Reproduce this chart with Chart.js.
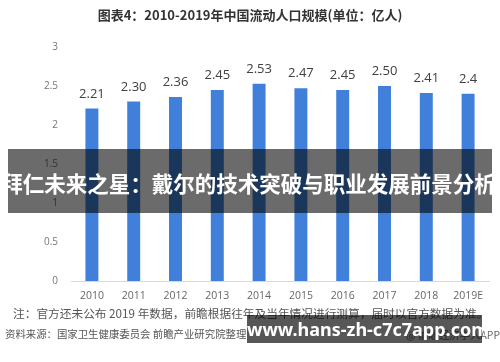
<!DOCTYPE html>
<html><head><meta charset="utf-8">
<script src="https://cdn.jsdelivr.net/npm/chart.js@4/dist/chart.umd.min.js"></script>
<style>
html,body{margin:0;padding:0;background:#fff;}
#wrap{position:relative;width:500px;height:362px;overflow:hidden;font-family:"Noto Sans CJK SC","Noto Sans",sans-serif;}
#c{position:absolute;left:0;top:0;}
.abs{position:absolute;white-space:nowrap;}
.title{left:0;width:500px;top:6px;line-height:18px;text-align:center;font-weight:bold;font-size:13px;color:#333;}
.banner{left:8px;width:484px;top:149px;height:64px;background:rgba(0,0,0,0.58);}
.bannertext{left:0;width:497px;top:168px;line-height:30px;text-align:center;color:#fff;font-weight:bold;font-size:21.5px;}
.note{left:13px;top:305px;line-height:16px;font-size:11.7px;color:#555;}
.src{left:5px;top:326px;line-height:16px;font-size:10.4px;color:#555;}
.app{right:0;top:327px;line-height:16px;font-size:10.4px;color:#666;}
.wm{left:247px;top:315px;width:235px;height:28px;background:rgba(0,0,0,0.66);}
.wmtext{left:247px;top:315px;width:235px;line-height:28px;text-align:center;color:#fff;font-weight:bold;font-size:18px;font-family:"Noto Sans","DejaVu Sans",sans-serif;}
</style>
</head><body>
<div id="wrap">
<canvas id="c" width="500" height="362"></canvas>
<div class="abs title">图表4：2010-2019年中国流动人口规模(单位：亿人)</div>
<div class="abs banner"></div>
<div class="abs bannertext">拜仁未来之星：戴尔的技术突破与职业发展前景分析</div>
<div class="abs note">注：官方还未公布 2019 年数据，前瞻根据往年及当年情况进行测算，届时以官方数据为准。</div>
<div class="abs src">资料来源：国家卫生健康委员会 前瞻产业研究院整理</div>
<div class="abs app">@ 前瞻经济学人APP</div>
<div class="abs wm"></div>
<div class="abs wmtext">www.hans-zh-c7c7app.com</div>
</div>
<script>
const years = ['2010','2011','2012','2013','2014','2015','2016','2017','2018','2019E'];
const population = [2.21,2.30,2.36,2.45,2.53,2.47,2.45,2.50,2.41,2.40];
const valueLabels = ['2.21','2.30','2.36','2.45','2.53','2.47','2.45','2.50','2.41','2.4'];
const yMin = 0, yMax = 3, yStep = 0.5;

const valueLabelPlugin = {
  id: 'valueLabels',
  afterDatasetsDraw(chart) {
    const ctx = chart.ctx;
    const meta = chart.getDatasetMeta(0);
    ctx.save();
    ctx.font = '13px "Open Sans", "Noto Sans", sans-serif';
    ctx.fillStyle = '#404040';
    ctx.textAlign = 'center';
    ctx.textBaseline = 'alphabetic';
    meta.data.forEach((bar, i) => {
      ctx.fillText(valueLabels[i], bar.x, bar.y - 11);
    });
    ctx.restore();
  }
};

new Chart(document.getElementById('c'), {
  type: 'bar',
  data: {
    labels: years,
    datasets: [{
      data: population,
      backgroundColor: '#4080da',
      borderWidth: 0,
      barPercentage: 0.31,
      categoryPercentage: 1
    }]
  },
  options: {
    responsive: false,
    animation: false,
    devicePixelRatio: 1,
    layout: { padding: { top: 47, left: 0, right: 11, bottom: 57 } },
    plugins: { legend: { display: false }, tooltip: { enabled: false }, title: { display: false } },
    scales: {
      x: {
        grid: { display: false, drawTicks: false },
        border: { display: true, color: '#d9d9d9', width: 1 },
        ticks: { color: '#666', padding: 9, font: { size: 10.5, family: '"Open Sans", "Noto Sans", sans-serif' } },
        afterFit(s) { s.height = 24; }
      },
      y: {
        min: yMin, max: yMax,
        grid: { display: false, drawTicks: false },
        border: { display: false },
        ticks: { stepSize: yStep, color: '#777', padding: 13, font: { size: 10, family: '"Open Sans", "Noto Sans", sans-serif' }, callback: v => String(v) },
        afterFit(s) { s.width = 71; }
      }
    }
  },
  plugins: [valueLabelPlugin]
});
</script>
</body></html>
